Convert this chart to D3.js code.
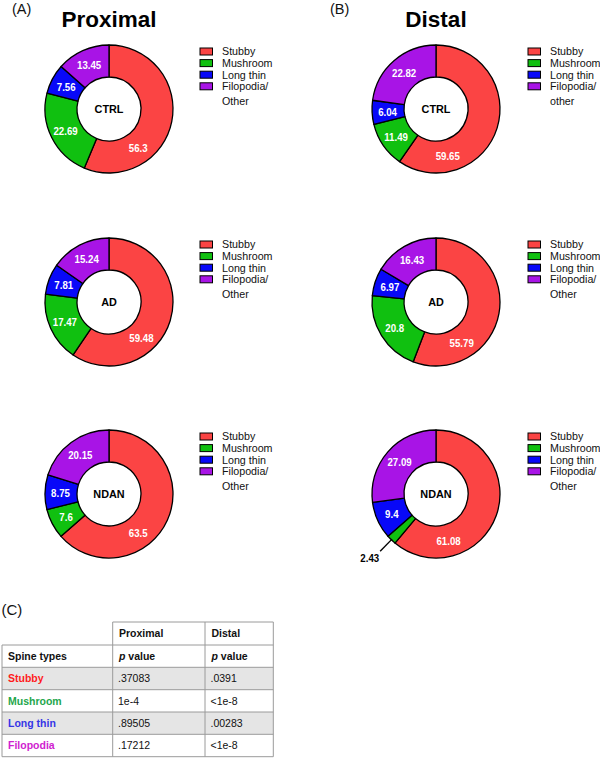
<!DOCTYPE html>
<html>
<head>
<meta charset="utf-8">
<script src="https://cdn.jsdelivr.net/npm/d3@7"></script>
<style>
  html, body { margin: 0; padding: 0; background: #fff; }
  svg { display: block; font-family: "Liberation Sans", Arial, sans-serif; }
</style>
</head>
<body>
<svg id="chart" width="600" height="758"></svg>
<script>
// ---------------- DATA ----------------
const groups = ["CTRL", "AD", "NDAN"];
const spineTypes = ["Stubby", "Mushroom", "Long thin", "Filopodia/Other"];
const proximalValues = [
  [56.3, 22.69, 7.56, 13.45],
  [59.48, 17.47, 7.81, 15.24],
  [63.5, 7.6, 8.75, 20.15]
];
const distalValues = [
  [59.65, 11.49, 6.04, 22.82],
  [55.79, 20.8, 6.97, 16.43],
  [61.08, 2.43, 9.4, 27.09]
];
const proximalLegend = [
  ["Stubby", "Mushroom", "Long thin", "Filopodia/", "Other"],
  ["Stubby", "Mushroom", "Long thin", "Filopodia/", "Other"],
  ["Stubby", "Mushroom", "Long thin", "Filopodia/", "Other"]
];
const distalLegend = [
  ["Stubby", "Mushroom", "Long thin", "Filopodia/", "other"],
  ["Stubby", "Mushroom", "Long thin", "Filopodia/", "Other"],
  ["Stubby", "Mushroom", "Long thin", "Filopodia/", "Other"]
];
const tableTypes = ["Stubby", "Mushroom", "Long thin", "Filopodia"];
const proximalP = [".37083", "1e-4", ".89505", ".17212"];
const distalP = [".0391", "<1e-8", ".00283", "<1e-8"];

// ---------------- LAYOUT / STYLE ----------------
const sliceColors = ["#fb4444", "#10c010", "#0808f8", "#a814e6"];
const tableColors = ["#ff1c1c", "#1ea64c", "#3535e6", "#cf22cf"];
// angle (deg, clockwise from 12 o'clock) where the big-slice label sits
const bigLabelAngle = { proximal: [143, 138, 143], distal: [166, 148, 165] };

const svg = d3.select("#chart");
const outerR = 64, innerR = 32, labelR = 48.5;
const rowY = [109, 302, 494];
const panels = [
  { key: "proximal", title: "Proximal", tag: "(A)", tagX: 12, cx: 109, legX: 200, values: proximalValues, legend: proximalLegend },
  { key: "distal", title: "Distal", tag: "(B)", tagX: 330, cx: 436, legX: 528, values: distalValues, legend: distalLegend }
];

const pie = d3.pie().sort(null).value(d => d).startAngle(0).endAngle(2 * Math.PI);
const arc = d3.arc().innerRadius(innerR).outerRadius(outerR);

function narrowText(g, x, y, txt, opts) {
  return g.append("text")
    .attr("transform", `translate(${x},${y}) scale(${opts.sx || 1},1)`)
    .attr("text-anchor", opts.anchor || "middle")
    .attr("font-size", opts.size)
    .attr("font-weight", opts.weight || "normal")
    .attr("fill", opts.fill || "#000")
    .text(txt);
}

panels.forEach(p => {
  svg.append("text").attr("x", p.tagX).attr("y", 13.5)
    .attr("font-size", 14.5).attr("fill", "#111").text(p.tag);
  svg.append("text").attr("x", p.cx).attr("y", 27)
    .attr("text-anchor", "middle").attr("font-size", 22.5)
    .attr("font-weight", "bold").attr("fill", "#000").text(p.title);

  groups.forEach((grp, gi) => {
    const cy = rowY[gi];
    const g = svg.append("g").attr("transform", `translate(${p.cx},${cy})`);
    const arcs = pie(p.values[gi]);
    g.selectAll("path.slice").data(arcs).enter().append("path")
      .attr("class", "slice")
      .attr("d", arc)
      .attr("fill", (d, i) => sliceColors[i])
      .attr("stroke", "#000").attr("stroke-width", 1.3)
      .attr("stroke-linejoin", "round");

    // center label
    narrowText(g, 0, 4.2, grp, { size: 11.8, weight: "bold", sx: 0.92 });

    // slice labels
    arcs.forEach((d, i) => {
      const txt = String(d.data);
      if (d.data < 5) {
        const mid = (d.startAngle + d.endAngle) / 2;
        const ux = Math.sin(mid), uy = -Math.cos(mid);
        const x1 = ux * (outerR - 1), y1 = uy * (outerR - 1);
        const x2 = ux * 80, y2 = uy * 80;
        g.append("line").attr("x1", x1).attr("y1", y1).attr("x2", x2).attr("y2", y2)
          .attr("stroke", "#000").attr("stroke-width", 1.4);
        narrowText(g, x2 - 1, y2 + 11, txt, { size: 11.8, weight: "bold", sx: 0.82, anchor: "end" });
        return;
      }
      let ang;
      if (i === 0) ang = bigLabelAngle[p.key][gi] * Math.PI / 180;
      else ang = (d.startAngle + d.endAngle) / 2;
      const x = Math.sin(ang) * labelR, y = -Math.cos(ang) * labelR;
      narrowText(g, x, y + 4.3, txt, { size: 11.8, weight: "bold", sx: 0.82, fill: "#fff" });
    });

    // legend
    const lg = svg.append("g");
    const legRows = p.legend[gi];
    spineTypes.forEach((s, i) => {
      const ly = cy - 57.5 + i * 11.6;
      lg.append("rect").attr("x", p.legX).attr("y", ly - 3.5).attr("width", 12.5).attr("height", 7)
        .attr("fill", sliceColors[i]).attr("stroke", "#000").attr("stroke-width", 1);
    });
    legRows.forEach((t, i) => {
      const ly = i < 4 ? cy - 57.5 + i * 11.6 : cy - 7.5;
      lg.append("text").attr("x", p.legX + 22).attr("y", ly + 3.8)
        .attr("font-size", 10.7).attr("fill", "#111").text(t);
    });
  });
});

// ---------------- TABLE (C) ----------------
svg.append("text").attr("x", 1.5).attr("y", 614.5)
  .attr("font-size", 15).attr("fill", "#111").text("(C)");

const colX = [2, 112.7, 205, 273.3];
const rowLines = [622, 645, 667.3, 689.7, 712, 734.3, 756.7];
const tg = svg.append("g");
const borderCol = "#9a9a9a";

[0, 2].forEach(r => {
  tg.append("rect").attr("x", colX[0]).attr("y", rowLines[r + 2])
    .attr("width", colX[3] - colX[0]).attr("height", rowLines[r + 3] - rowLines[r + 2])
    .attr("fill", "#e5e5e5");
});
rowLines.forEach((y, i) => {
  tg.append("line").attr("x1", i === 0 ? colX[1] : colX[0]).attr("x2", colX[3])
    .attr("y1", y).attr("y2", y).attr("stroke", borderCol).attr("stroke-width", 1);
});
colX.forEach((x, i) => {
  tg.append("line").attr("x1", x).attr("x2", x)
    .attr("y1", i === 0 ? rowLines[1] : rowLines[0]).attr("y2", rowLines[6])
    .attr("stroke", borderCol).attr("stroke-width", 1);
});

function cellText(x, r, txt, opts) {
  const y = (rowLines[r] + rowLines[r + 1]) / 2 + 3.7;
  const t = tg.append("text").attr("x", x).attr("y", y)
    .attr("font-size", 10.5).attr("fill", opts.fill || "#111")
    .attr("font-weight", opts.weight || "normal");
  if (opts.italicP) {
    t.append("tspan").attr("font-style", "italic").text("p");
    t.append("tspan").text(" value");
  } else t.text(txt);
}
cellText(119, 0, "Proximal", { weight: "bold" });
cellText(211.5, 0, "Distal", { weight: "bold" });
cellText(8, 1, "Spine types", { weight: "bold" });
cellText(119, 1, "", { weight: "bold", italicP: true });
cellText(211.5, 1, "", { weight: "bold", italicP: true });
tableTypes.forEach((t, i) => {
  cellText(8, i + 2, t, { weight: "bold", fill: tableColors[i] });
  cellText(118, i + 2, proximalP[i], {});
  cellText(210.5, i + 2, distalP[i], {});
});
</script>
</body>
</html>
